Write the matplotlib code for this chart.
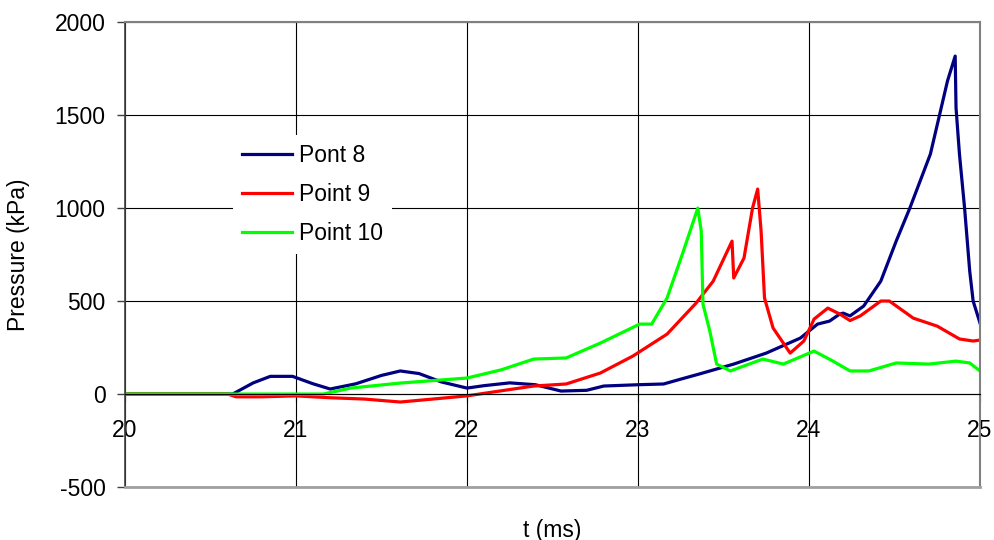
import matplotlib
matplotlib.use("Agg")
import matplotlib.pyplot as plt

plt.rcParams['font.family'] = ['Liberation Sans', 'DejaVu Sans']
plt.rcParams['axes.unicode_minus'] = False

# pressure history at three gauge points
t8 = [20.0, 20.63, 20.75, 20.85, 20.98, 21.1, 21.2, 21.35, 21.5, 21.61, 21.72, 21.85,
      22.0, 22.1, 22.25, 22.4, 22.55, 22.7, 22.8, 23.0, 23.15, 23.25, 23.36, 23.56,
      23.75, 23.95, 24.05, 24.12, 24.18, 24.2, 24.24, 24.32, 24.42, 24.51, 24.59,
      24.71, 24.81, 24.855, 24.86, 24.88, 24.91, 24.94, 24.96, 25.0]
p8 = [0, 0, 60, 95, 95, 55, 27, 55, 100, 124, 110, 65,
      32, 45, 60, 50, 16, 20, 43, 50, 54, 80, 108, 161,
      220, 301, 376, 392, 430, 435, 420, 473, 607, 822, 1000,
      1290, 1683, 1817, 1538, 1290, 1000, 661, 500, 382]

t9 = [20.0, 20.6, 20.65, 20.8, 21.0, 21.2, 21.4, 21.61, 21.8, 22.0, 22.19, 22.39,
      22.58, 22.78, 22.97, 23.17, 23.34, 23.44, 23.55, 23.56, 23.62, 23.67, 23.70,
      23.72, 23.74, 23.79, 23.89, 23.97, 24.03, 24.11, 24.18, 24.24, 24.3, 24.42,
      24.47, 24.61, 24.75, 24.88, 24.96, 25.0]
p9 = [0, 0, -15, -15, -10, -20, -27, -43, -27, -10, 16, 43,
      54, 113, 204, 322, 489, 607, 822, 624, 731, 1000, 1102,
      876, 516, 355, 220, 285, 403, 462, 430, 395, 420, 500,
      500, 408, 365, 296, 285, 290]

t10 = [20.0, 21.16, 21.32, 21.61, 22.0, 22.2, 22.39, 22.58, 22.78, 23.01, 23.08,
       23.17, 23.26, 23.35, 23.37, 23.38, 23.42, 23.46, 23.54, 23.65, 23.73, 23.85,
       24.03, 24.14, 24.24, 24.35, 24.51, 24.7, 24.86, 24.94, 25.0]
p10 = [0, 0, 32, 59, 86, 130, 188, 194, 274, 376, 376,
       516, 753, 1000, 876, 484, 339, 161, 124, 161, 188, 161,
       231, 177, 124, 124, 167, 161, 177, 167, 124]

xticks = [20, 21, 22, 23, 24, 25]
yticks = [-500, 0, 500, 1000, 1500, 2000]

fig = plt.figure(figsize=(9.95, 5.4), dpi=100)
ax = fig.add_axes([0.1256, 0.0981, 0.8593, 0.8611])

ax.plot(t8, p8, color='#000080', lw=2.3, label='Pont 8')
ax.plot(t9, p9, color='#ff0000', lw=2.3, label='Point 9')
ax.plot(t10, p10, color='#00ff00', lw=2.3, label='Point 10')

ax.set_xlim(20, 25)
ax.set_ylim(-500, 2000)
ax.set_xticks(xticks)
ax.set_yticks(yticks)
ax.grid(True, color='black', lw=0.8)
ax.set_axisbelow(True)

# excel style: x axis crosses at zero, grey frame around plot area
ax.spines['bottom'].set_position(('data', 0))
ax.spines['bottom'].set_color('black')
ax.spines['bottom'].set_linewidth(0.8)
ax.spines['left'].set_color('#404040')
ax.spines['left'].set_linewidth(1.2)
for s in ['top', 'right']:
    ax.spines[s].set_color('#808080')
    ax.spines[s].set_linewidth(1.5)
ax.axhline(-500, color='#a0a0a0', lw=2.0, clip_on=False, zorder=3)

ax.tick_params(axis='x', direction='out', length=6, width=0.8, color='black',
               labelsize=16.5, pad=12)
ax.tick_params(axis='y', direction='out', length=6, width=1.0, color='#404040',
               labelsize=16.5, pad=8)

ax.set_xlabel('t (ms)', fontsize=16.5)
ax.set_ylabel('Pressure (kPa)', fontsize=16.5)
ax.xaxis.set_label_coords(0.5, -0.068)
ax.yaxis.set_label_coords(-0.111, 0.5)

leg = ax.legend(loc='upper left', bbox_to_anchor=(0.126, 0.757), fontsize=16.5,
                frameon=True, fancybox=False, framealpha=1, edgecolor='none',
                facecolor='white', handlelength=2.2, handletextpad=0.3,
                labelspacing=0.7, borderpad=0.4, borderaxespad=0)

fig.savefig('out.png', dpi=100)
